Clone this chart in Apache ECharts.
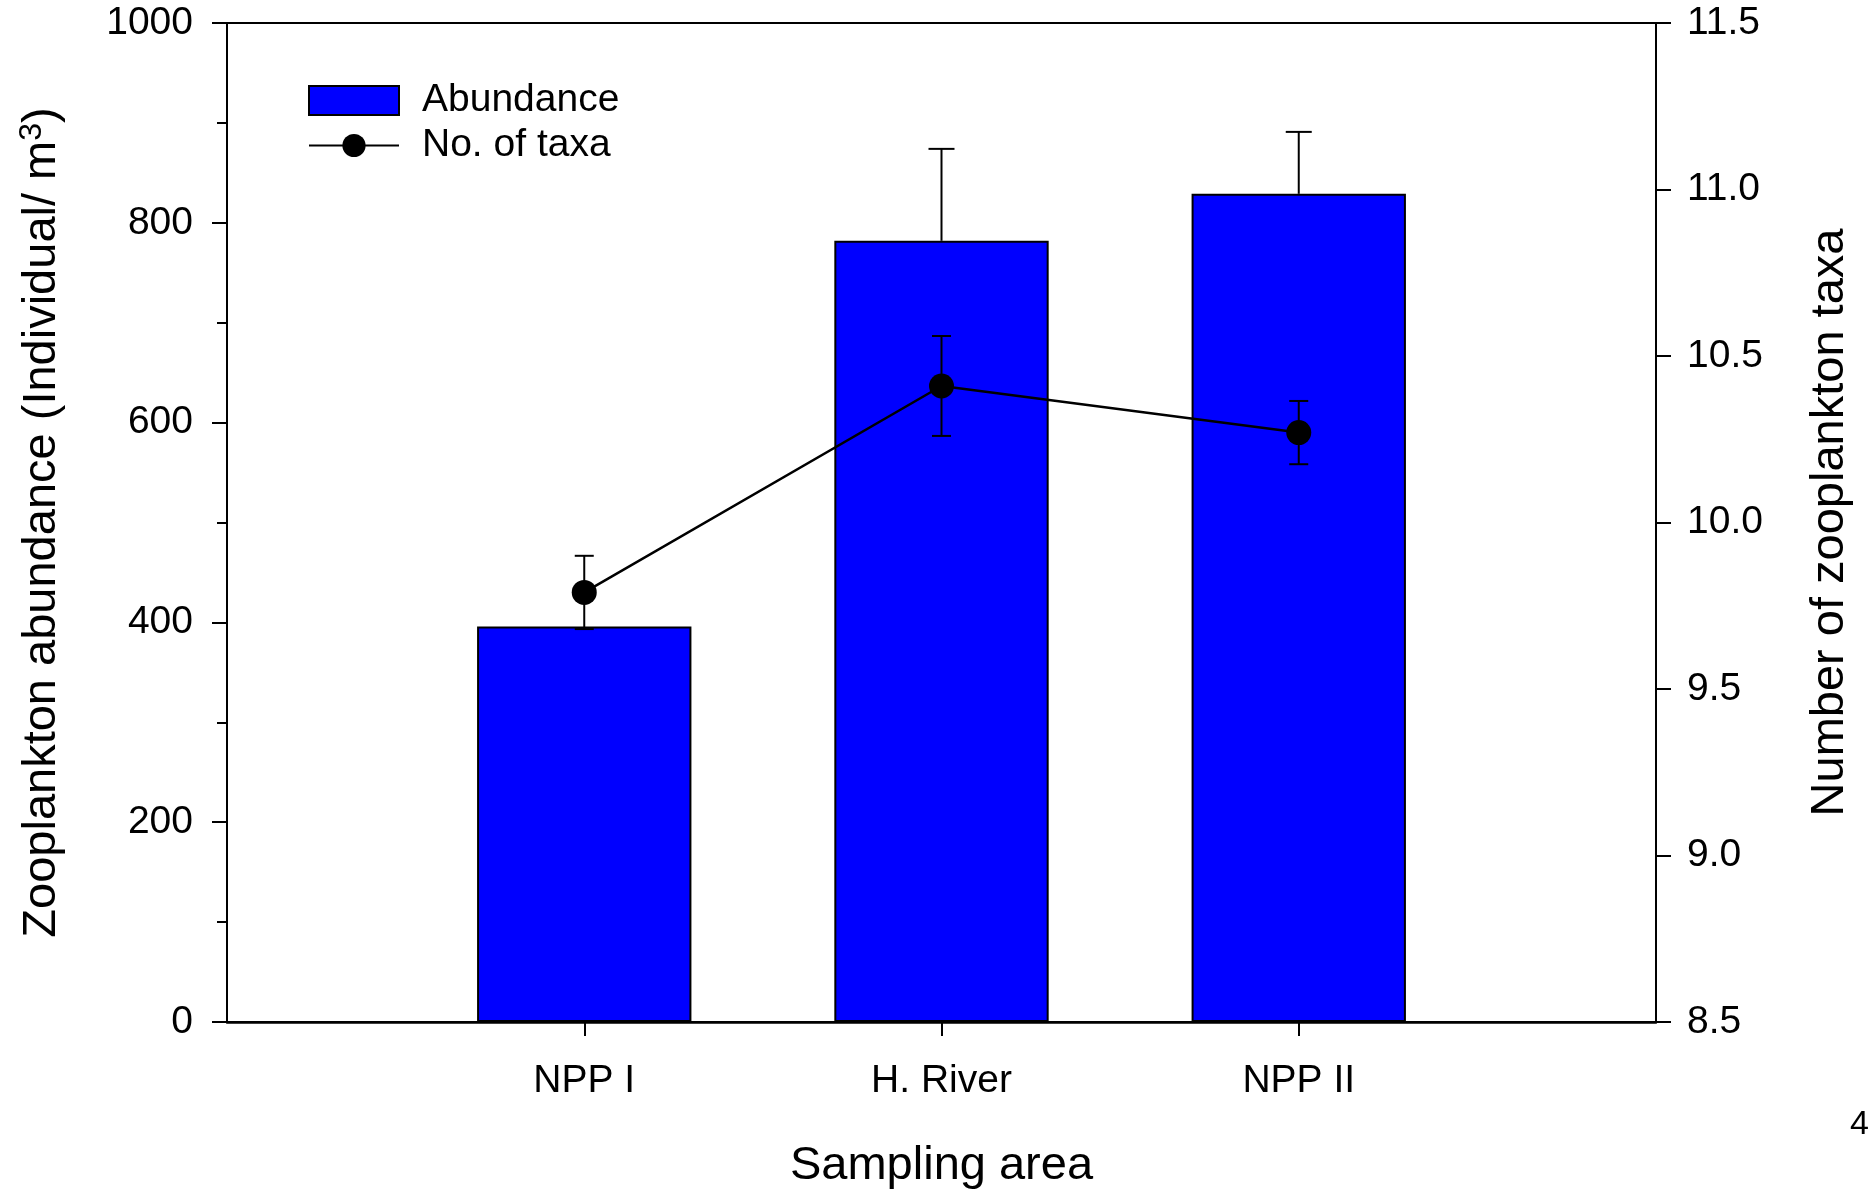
<!DOCTYPE html>
<html>
<head>
<meta charset="utf-8">
<script src="https://cdn.jsdelivr.net/npm/echarts@6/dist/echarts.min.js"></script>
<style>
  html, body { margin: 0; padding: 0; background: #fff; }
  #chart { width: 1870px; height: 1189px; }
</style>
</head>
<body>
<div id="chart"></div>
<script>
// ---- Data ----
var categories = ['NPP I', 'H. River', 'NPP II'];
var abundance = [396, 782, 829];          // Individual / m3
var abundanceErr = [null, 92, 62];        // upper error (NPP I not visible)
var taxa = [9.79, 10.41, 10.27];          // number of taxa
var taxaErr = [0.11, 0.15, 0.095];
var leftTicks = { min: 0, max: 1000, interval: 200 };
var rightTicks = { min: 8.5, max: 11.5, interval: 0.5 };

// category axis padded with empty slots at both ends (bars sit at 1/4, 2/4, 3/4)
var xCats = [''].concat(categories).concat(['']);
function pad(arr) { return [null].concat(arr).concat([null]); }

var FONT = 'Liberation Sans, Arial, sans-serif';

var abundErrData = abundance.map(function (v, i) { return [i + 1, v, abundanceErr[i]]; })
  .filter(function (d) { return d[2] != null; });
var taxaErrData = taxa.map(function (v, i) { return [i + 1, v, taxaErr[i]]; });

function errRenderer(halfCap, upOnly) {
  return function (params, api) {
    var x = api.value(0), v = api.value(1), e = api.value(2);
    var top = api.coord([x, v + e]);
    var mid = api.coord([x, v]);
    var bot = upOnly ? mid : api.coord([x, v - e]);
    var style = { stroke: '#000', lineWidth: 2, fill: null };
    var children = [
      { type: 'line', shape: { x1: top[0], y1: top[1], x2: bot[0], y2: bot[1] }, style: style },
      { type: 'line', shape: { x1: top[0] - halfCap, y1: top[1], x2: top[0] + halfCap, y2: top[1] }, style: style }
    ];
    if (!upOnly) {
      children.push({ type: 'line', shape: { x1: bot[0] - halfCap, y1: bot[1], x2: bot[0] + halfCap, y2: bot[1] }, style: style });
    }
    return { type: 'group', children: children };
  };
}

var chart = echarts.init(document.getElementById('chart'), null, { renderer: 'canvas' });
chart.setOption({
  backgroundColor: '#fff',
  animation: false,
  textStyle: { fontFamily: FONT, color: '#000' },
  grid: {
    left: 227, right: 214, top: 23, bottom: 167,
    show: true, borderColor: '#000', borderWidth: 2,
    containLabel: false, outerBoundsMode: 'none'
  },
  legend: {
    orient: 'vertical',
    left: 308, top: 81,
    padding: 0,
    itemWidth: 90, itemHeight: 29, itemGap: 6,
    textStyle: { fontFamily: FONT, fontSize: 39, color: '#000', padding: [0, 0, 0, 18] },
    data: [{ name: 'Abundance', icon: 'rect' }, { name: 'No. of taxa' }]
  },
  xAxis: {
    type: 'category',
    data: xCats,
    boundaryGap: false,
    name: 'Sampling area',
    nameLocation: 'middle',
    nameGap: 121,
    nameTextStyle: { fontFamily: FONT, fontSize: 47, color: '#000' },
    axisLine: { lineStyle: { color: '#000', width: 2.5 } },
    axisTick: {
      length: 14, lineStyle: { color: '#000', width: 2 },
      interval: function (idx) { return idx > 0 && idx < xCats.length - 1; }
    },
    axisLabel: { fontFamily: FONT, fontSize: 39, color: '#000', margin: 40, interval: 0 },
    splitLine: { show: false }
  },
  yAxis: [
    {
      type: 'value',
      position: 'left',
      min: leftTicks.min, max: leftTicks.max, interval: leftTicks.interval,
      name: '{main|Zooplankton abundance (Individual/ m}{sup|3}{main|)}',
      nameLocation: 'middle',
      nameRotate: 90,
      nameGap: 158,
      nameTextStyle: {
        fontFamily: FONT, fontSize: 47, color: '#000',
        rich: {
          main: { fontFamily: FONT, fontSize: 47, color: '#000', lineHeight: 54 },
          sup: { fontFamily: FONT, fontSize: 32, color: '#000', lineHeight: 54, padding: [0, 0, 20, 0] }
        }
      },
      axisLine: { show: true, lineStyle: { color: '#000', width: 2 } },
      axisTick: { show: true, length: 15, lineStyle: { color: '#000', width: 2 } },
      minorTick: { show: true, splitNumber: 2, length: 10, lineStyle: { color: '#000', width: 2 } },
      axisLabel: {
        fontFamily: FONT, fontSize: 39, color: '#000', margin: 34,
        formatter: function (v) { return String(v); }
      },
      splitLine: { show: false }
    },
    {
      type: 'value',
      position: 'right',
      min: rightTicks.min, max: rightTicks.max, interval: rightTicks.interval,
      name: 'Number of zooplankton taxa',
      nameLocation: 'middle',
      nameRotate: 90,
      nameGap: 151,
      nameTextStyle: { fontFamily: FONT, fontSize: 47, color: '#000' },
      axisLine: { show: true, lineStyle: { color: '#000', width: 2 } },
      axisTick: { show: true, length: 15, lineStyle: { color: '#000', width: 2 } },
      axisLabel: {
        fontFamily: FONT, fontSize: 39, color: '#000', margin: 31,
        formatter: function (v) { return v.toFixed(1); }
      },
      splitLine: { show: false }
    }
  ],
  series: [
    {
      name: 'Abundance',
      type: 'bar',
      yAxisIndex: 0,
      data: pad(abundance),
      barWidth: '60%',
      itemStyle: { color: '#0000ff', borderColor: '#000', borderWidth: 2 },
      z: 2
    },
    {
      name: 'AbundanceErr',
      type: 'custom',
      yAxisIndex: 0,
      data: abundErrData,
      renderItem: errRenderer(13, true),
      encode: { x: 0, y: [1] },
      z: 3,
      silent: true
    },
    {
      name: 'No. of taxa',
      type: 'line',
      yAxisIndex: 1,
      data: pad(taxa),
      symbol: 'circle',
      symbolSize: 25,
      itemStyle: { color: '#000' },
      lineStyle: { color: '#000', width: 2.5 },
      z: 5
    },
    {
      name: 'TaxaErr',
      type: 'custom',
      yAxisIndex: 1,
      data: taxaErrData,
      renderItem: errRenderer(9.5, false),
      encode: { x: 0, y: [1] },
      z: 4,
      silent: true
    }
  ],
  graphic: [
    {
      type: 'text',
      left: 1850, top: 1108,
      style: { text: '4', font: '34px ' + FONT, fill: '#000' }
    }
  ]
});
</script>
</body>
</html>
